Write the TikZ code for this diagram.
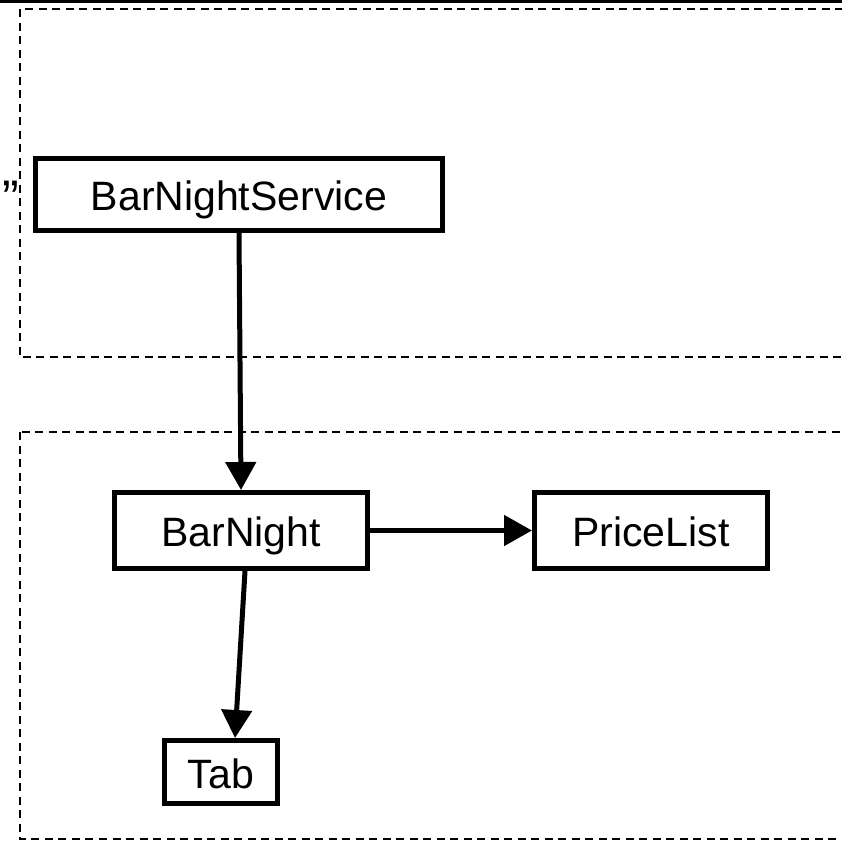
\documentclass[tikz,border=0pt]{standalone}
\usepackage{fontspec}
\setmainfont{Liberation Sans}
\usetikzlibrary{arrows.meta,positioning}

\begin{document}
\begin{tikzpicture}[x=0.5pt,y=-0.5pt]
    \tikzstyle{cls}=[rectangle, draw=black, line width=2.5pt, inner sep=0pt, text height=19pt, text depth=3pt, font=\fontsize{20.5}{24}\selectfont]
    \tikzstyle{connect}=[-{Triangle[width=15pt,length=14pt]}, line width=2.5pt]
    \tikzstyle{pkg}=[draw=black, line width=1pt, dash pattern=on 4pt off 2.75pt]
    \useasboundingbox (0,0) rectangle (842,841);
    \clip (0,0) rectangle (842,841);

    % edge of the page above
    \fill[black] (0,0) rectangle (842,3);

    % packages (run off to the right)
    \draw[pkg] (20,9) rectangle (880,357);
    \draw[pkg] (20,432) rectangle (880,839);

      \node[cls, minimum width=203.5pt, minimum height=36pt] (service) at (239,194.5) {BarNightService};
      \node[cls, minimum width=126.5pt, minimum height=38pt] (night) [below=128.5pt of service, xshift=1pt] {BarNight};
      \node[cls, minimum width=116.5pt, minimum height=38pt] (pricelist) [right=81pt of night] {PriceList};
      \node[cls, minimum width=56.5pt, minimum height=31.5pt] (tab) [below=83.5pt of night, xshift=-10pt] {Tab};
      \node[anchor=north west, inner sep=0pt, font=\fontsize{25}{27}\selectfont] (quote) at (2,181) {”};

      \path (service.south) edge [connect] (night.north);
      \path (night.east) edge [connect] (pricelist.west);
      \path ([xshift=2pt]night.south) edge [connect] ([xshift=7pt]tab.north);
\end{tikzpicture}
\end{document}
